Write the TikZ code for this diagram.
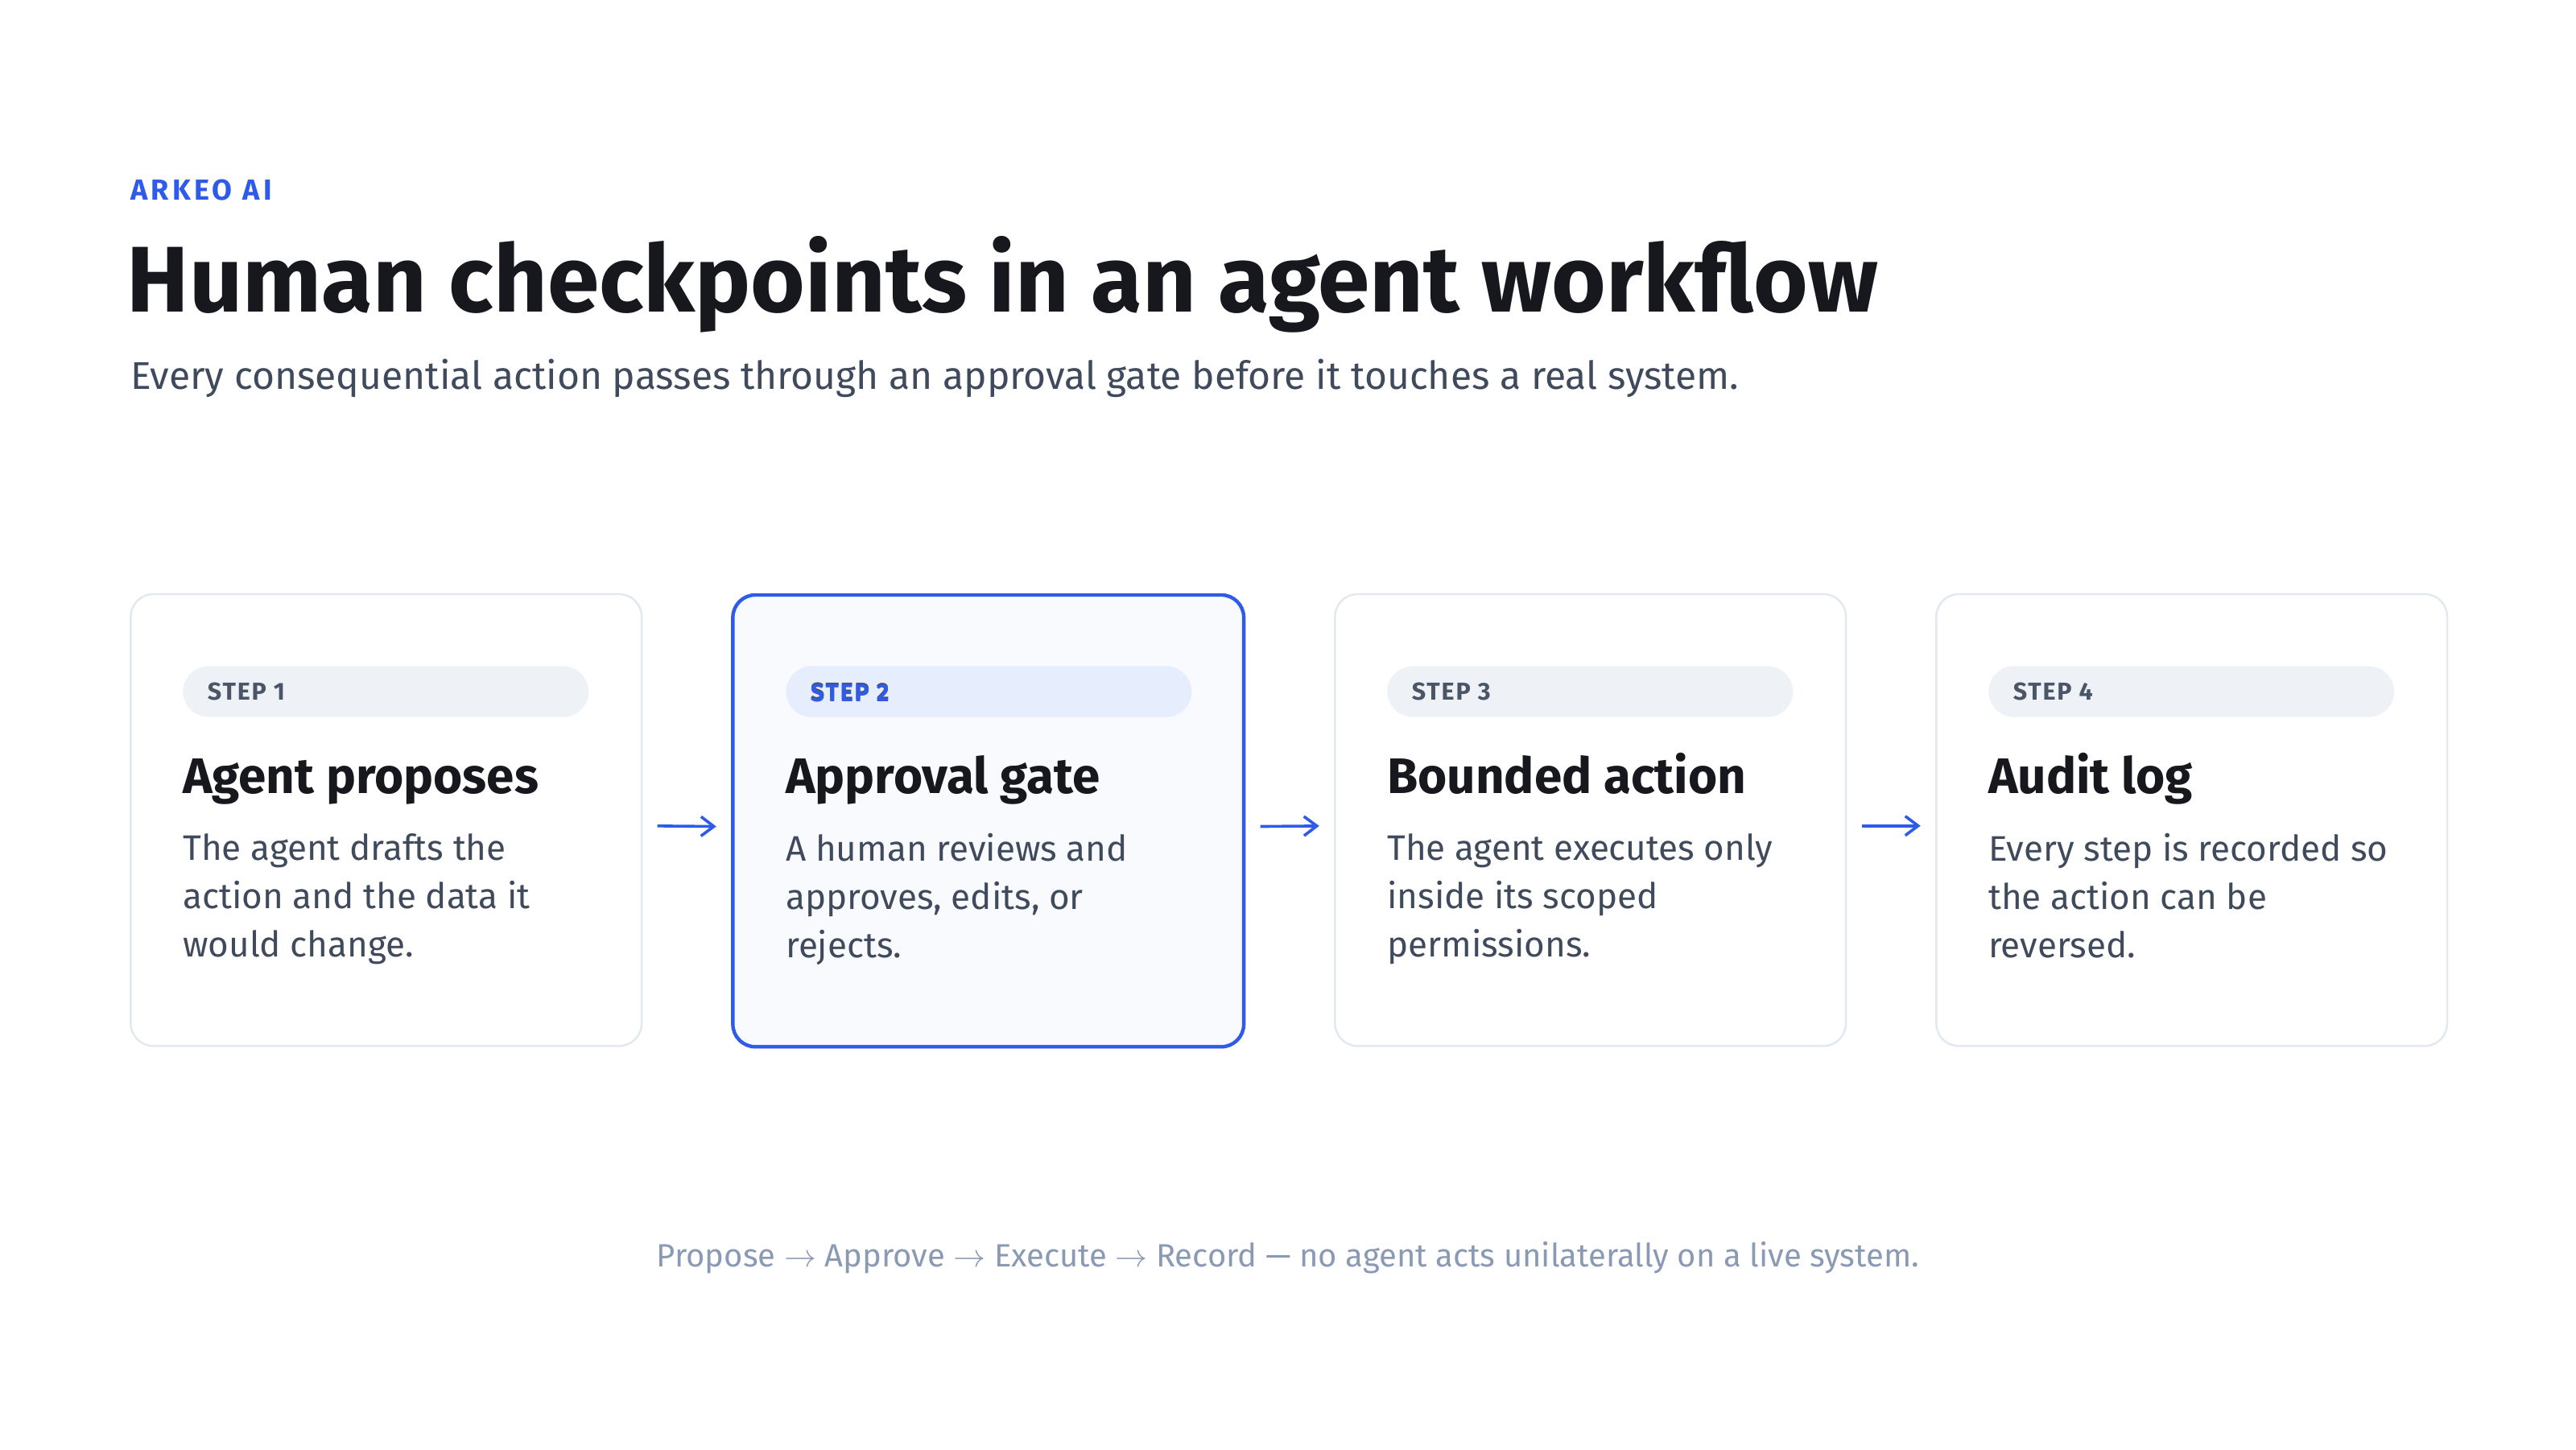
\documentclass[tikz,border=0pt]{standalone}
\usepackage{fontspec}
\setmainfont{Fira Sans}[BoldFont={Fira Sans Bold}]
\usetikzlibrary{arrows.meta}
\definecolor{blue}{HTML}{2F5BEA}
\definecolor{ink}{HTML}{16181D}
\definecolor{body}{HTML}{3F4A5C}
\definecolor{edge}{HTML}{E2E8F0}
\definecolor{pill}{HTML}{EEF2F7}
\definecolor{pillb}{HTML}{E6EDFD}
\definecolor{foot}{HTML}{8A9AB5}
\definecolor{stepg}{HTML}{4A5568}
\begin{document}
\begin{tikzpicture}[x=0.5102pt,y=-0.5102pt,
  card/.style={draw=edge,line width=0.6pt,rounded corners=7pt,fill=white,minimum width=311*0.5102pt,minimum height=275*0.5102pt,anchor=north west,inner sep=0},
  pl/.style={fill=pill,rounded corners=8pt,minimum width=247*0.5102pt,minimum height=31*0.5102pt,anchor=north west,inner sep=0},
  steplbl/.style={anchor=west,font=\bfseries\fontsize{7.6}{9}\selectfont,text=stepg,inner sep=0},
  head/.style={anchor=base west,font=\bfseries\fontsize{15.5}{18}\selectfont,text=ink,inner sep=0},
  bod/.style={anchor=north west,align=left,font=\fontsize{11}{15}\selectfont,text=body,inner sep=0},
  arr/.style={draw=blue,line width=0.9pt,-{Straight Barb[length=4pt,width=6pt]},shorten <=9*0.5102pt,shorten >=9*0.5102pt}]
\useasboundingbox[fill=white] (0,0) rectangle (1568,882);
\node[anchor=base west,inner sep=0,text=blue,font=\bfseries\fontsize{9}{10}\selectfont] (brand) at (79,122) {\addfontfeature{LetterSpace=12}ARKEO AI};
\node[anchor=base west,inner sep=0,text=ink,font=\bfseries\fontsize{29}{34}\selectfont] (title) at (77,190) {Human checkpoints in an agent workflow};
\node[anchor=base west,inner sep=0,text=body,font=\fontsize{12}{14}\selectfont] (sub) at (79,237) {Every consequential action passes through an approval gate before it touches a real system.};

\node[card] (b1) at (79,361) {};
\node[card,draw=blue,line width=1.1pt,fill=blue!3] (b2) at (445,361) {};
\node[card] (b3) at (812,361) {};
\node[card] (b4) at (1178,361) {};

\foreach \i/\x/\h/\t/\pc in {1/111/Agent proposes/{The agent drafts the\\action and the data it\\would change.}/pill,
  2/478/Approval gate/{A human reviews and\\approves, edits, or\\rejects.}/pillb,
  3/844/Bounded action/{The agent executes only\\inside its scoped\\permissions.}/pill,
  4/1210/Audit log/{Every step is recorded so\\the action can be\\reversed.}/pill}{
  \node[pl,fill=\pc] (p\i) at (\x,405) {};
  \node[steplbl] (s\i) at (\x+15,421) {\addfontfeature{LetterSpace=6}STEP \i};
  \node[head] (h\i) at (\x,483) {\h};
  \node[bod] (t\i) at (\x,507) {\t};
}
\node[steplbl,text=blue] at (493,422) {\addfontfeature{LetterSpace=6}STEP 2};

\draw[arr] ([yshift=-3.5*0.5102pt]b1.east) -- ([yshift=-3.5*0.5102pt]b2.west);
\draw[arr] ([yshift=-3.5*0.5102pt]b2.east) -- ([yshift=-3.5*0.5102pt]b3.west);
\draw[arr] ([yshift=-3.5*0.5102pt]b3.east) -- ([yshift=-3.5*0.5102pt]b4.west);

\node[anchor=base,inner sep=0,text=foot,font=\fontsize{10}{12}\selectfont] (ft) at (784,771) {Propose $\rightarrow$ Approve $\rightarrow$ Execute $\rightarrow$ Record — no agent acts unilaterally on a live system.};
\end{tikzpicture}
\end{document}
